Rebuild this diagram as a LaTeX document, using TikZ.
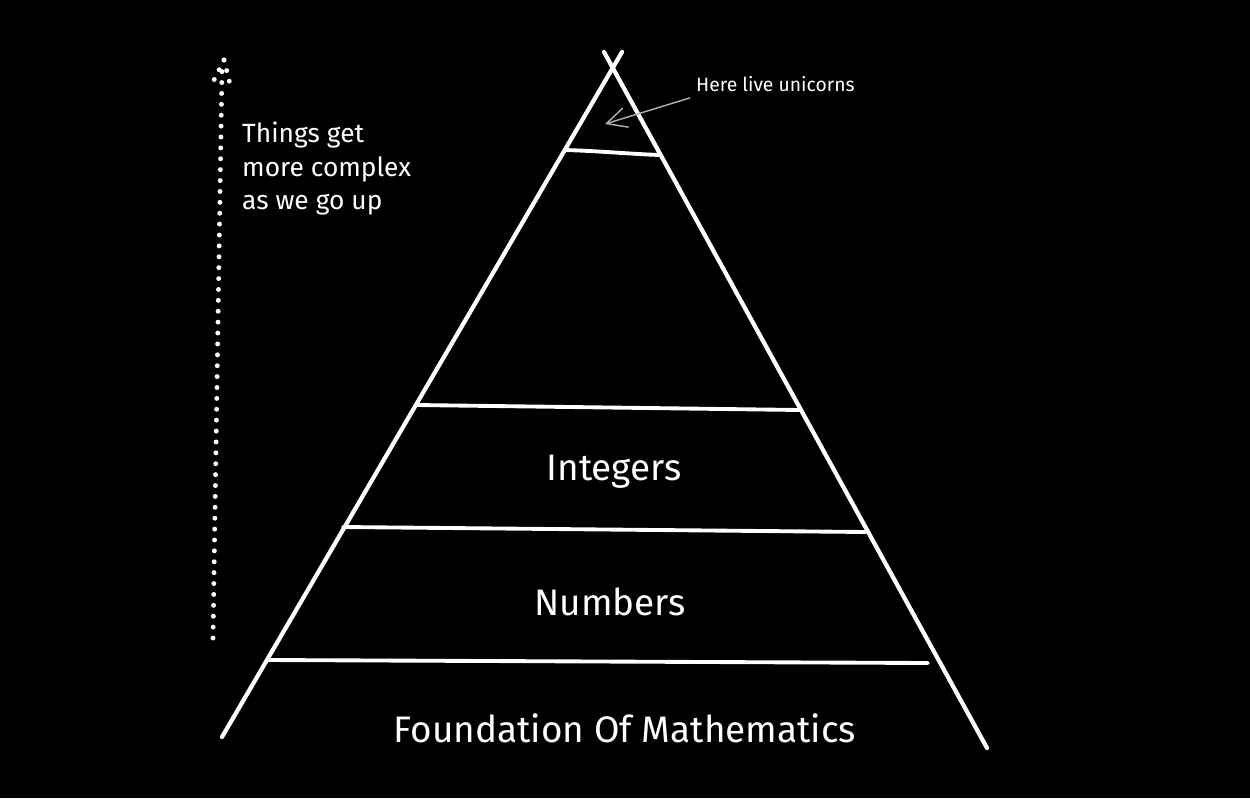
\documentclass[tikz,border=0pt]{standalone}
\usepackage{fontspec}
\setmainfont{Fira Sans}
\usetikzlibrary{arrows.meta,positioning}

\begin{document}
\begin{tikzpicture}[x=0.02cm,y=-0.02cm,
    edge/.style={white,line width=2.4pt,line cap=round},
    layer/.style={white,line width=2.2pt,line cap=round},
    dots/.style={white,line width=2.8pt,line cap=round,dash pattern=on 0pt off 6.2pt},
    label/.style={white,font=\fontsize{21}{25}\selectfont},
    note/.style={white,font=\fontsize{15}{19}\selectfont,align=left},
    small/.style={white,font=\fontsize{11}{13}\selectfont}]
  \fill[black] (0,0) rectangle (1250,798);
  \useasboundingbox (0,0) rectangle (1250,798);
  % sides, crossing just under the tip
  \coordinate (lb) at (222,737);
  \coordinate (lt) at (622,52);
  \coordinate (rt) at (604,52);
  \coordinate (rb) at (987,748);
  \draw[edge] (lb) -- (lt);
  \draw[edge] (rt) -- (rb);
  % layers
  \draw[layer] (565,150) .. controls (600,151) and (630,154) .. (660,155);
  \draw[layer] (416,405) -- (800,410);
  \draw[layer] (343,527) -- (866,532);
  \draw[layer] (268,660) -- (928,663);
  \node[label] (integers) at (614,472) {Integers};
  \node[label] (numbers) at (610,602) {Numbers};
  \node[label] (foundation) at (625,728) {Foundation Of Mathematics};
  % top
  \node[small,anchor=west] (unicorns) at (690,84) {Here live unicorns};
  \coordinate (home) at (605,124);
  \draw[black!30,line width=0.8pt,-{Straight Barb[length=4mm,width=4mm]}] (unicorns.south west) -- (home);
  % complexity arrow
  \coordinate (low) at (213,638);
  \coordinate (high) at (222,68);
  \coordinate (tip) at (224,60);
  \draw[dots] (low) -- (high);
  \draw[dots] (tip) -- (211,86);
  \draw[dots] (tip) -- (231,88);
  \node[note,anchor=north west] (complex) at (236,116) {Things get\\more complex\\as we go up};
\end{tikzpicture}
\end{document}
